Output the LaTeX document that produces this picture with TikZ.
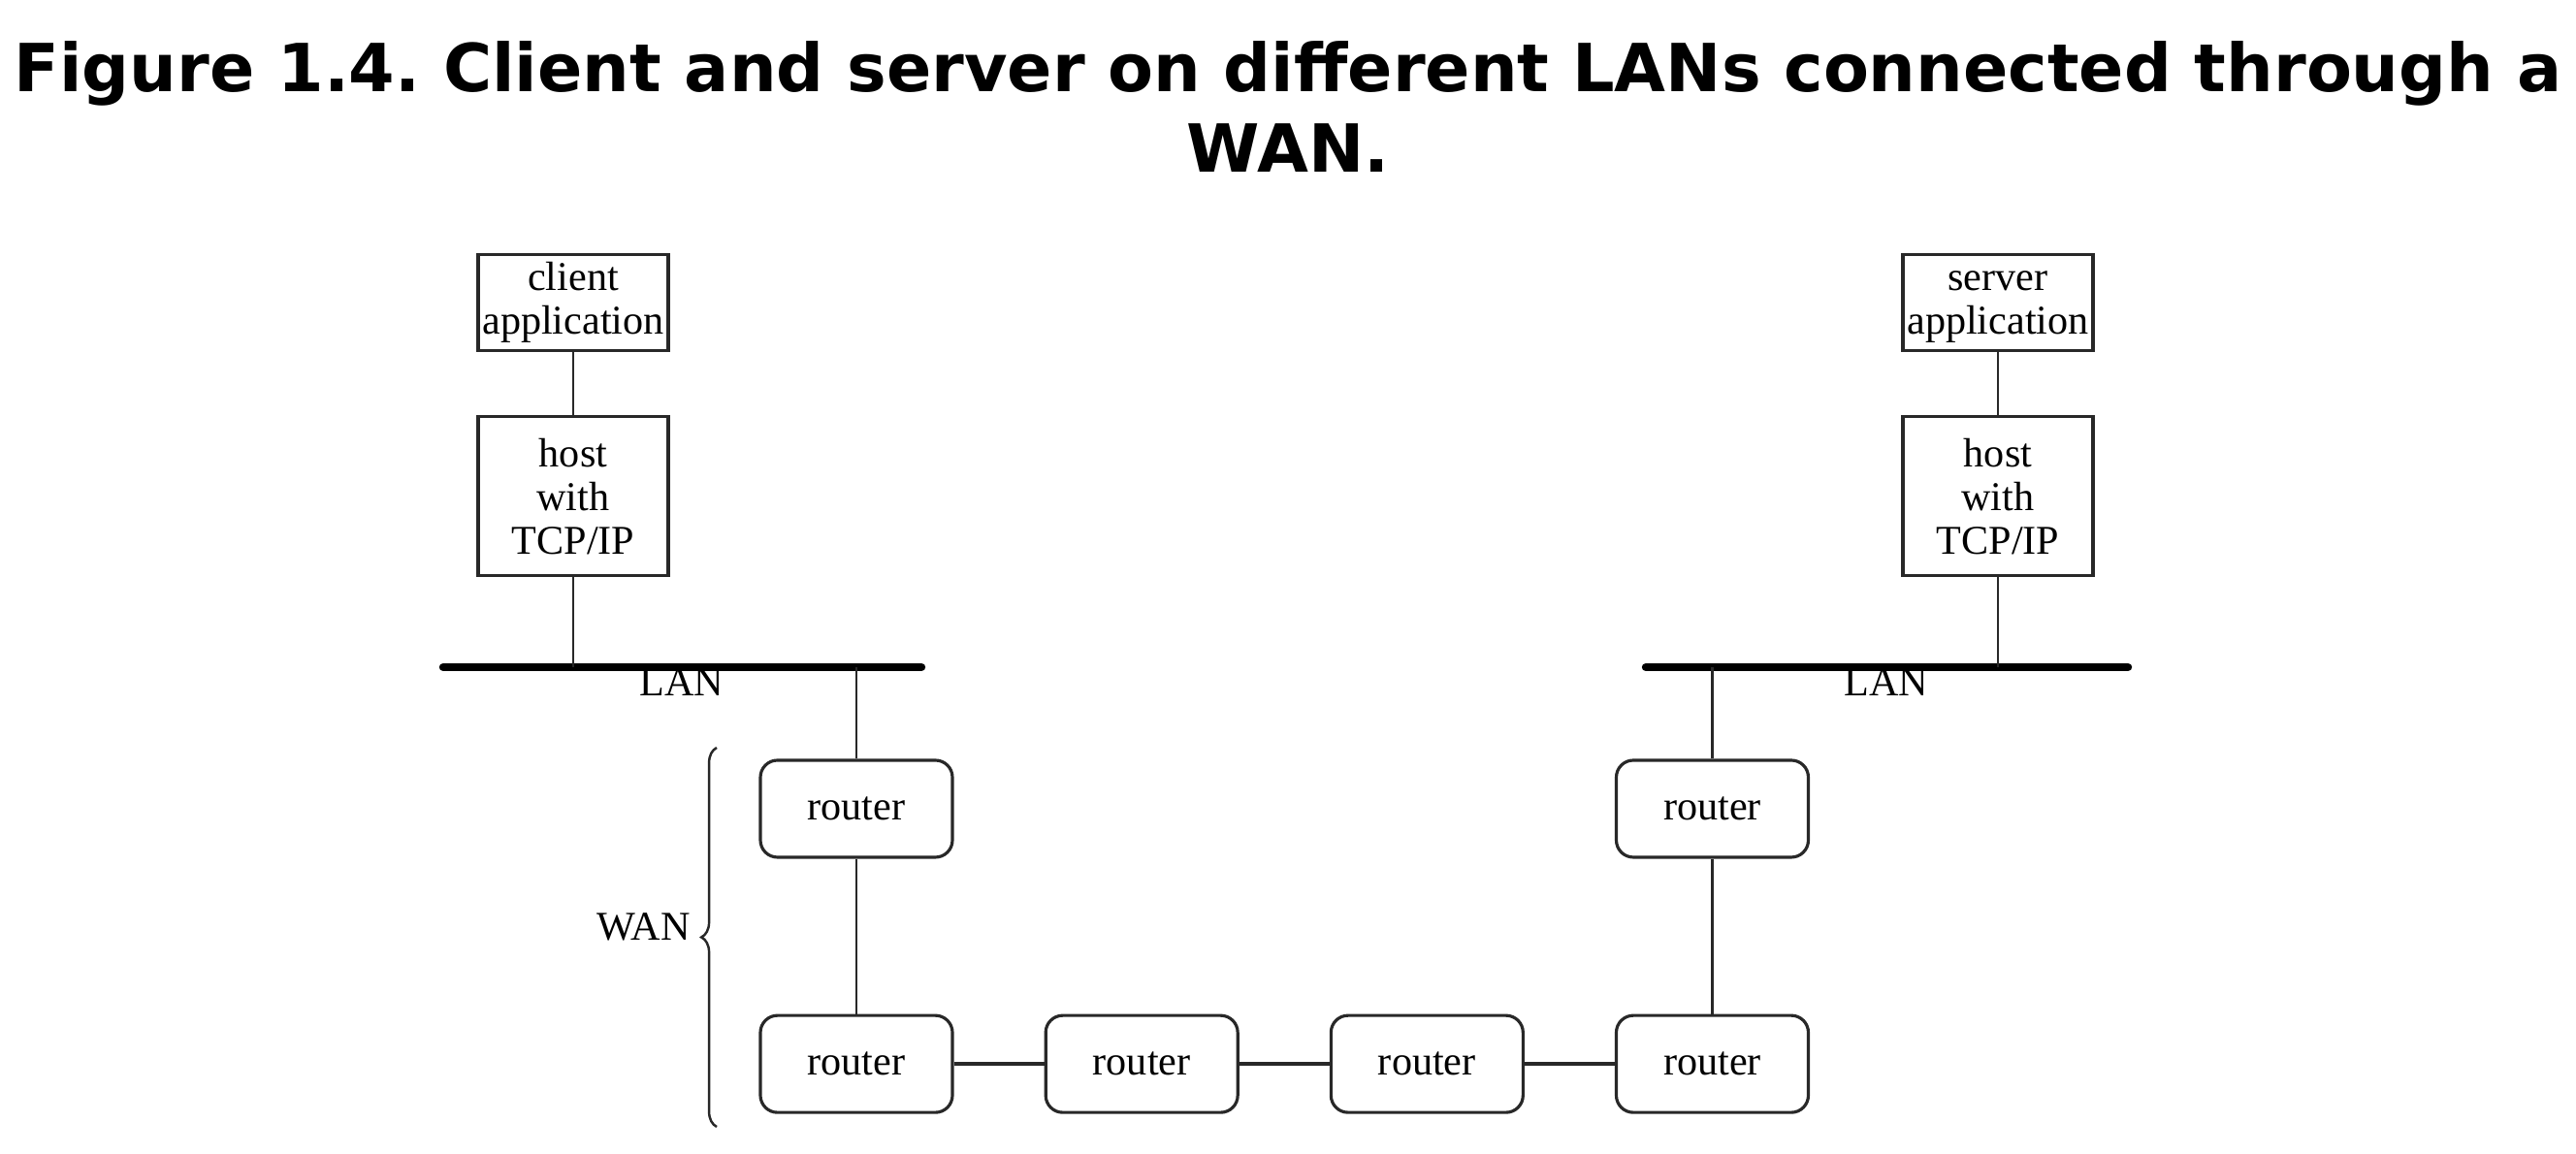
\documentclass[tikz,border=0pt]{standalone}
\usepackage{fontspec}
\setmainfont{Liberation Serif}
\newfontfamily\titlefont{DejaVu Sans}
\usepackage{tikz}
\usetikzlibrary{positioning,decorations.pathreplacing}
\definecolor{linegray}{RGB}{40,40,40}
\tikzset{
  wire/.style={draw=linegray, line width=0.7pt},
  link/.style={draw=linegray, line width=1.3pt},
  lanbar/.style={draw=black, line width=2.4pt, line cap=round},
  txt/.style={font=\fontsize{12}{12.8}\selectfont, text=black},
  block/.style={
    draw=linegray,
    line width=0.9pt,
    rectangle,
    minimum width=1.96cm,
    inner sep=0pt,
    align=center,
    font=\fontsize{12}{12.8}\selectfont
  },
  routerbox/.style={
    block,
    rounded corners=5pt,
    minimum width=1.98cm,
    minimum height=1.0cm
  }
}
\frenchspacing
\begin{document}
\begin{tikzpicture}
\useasboundingbox (0,0) rectangle (26.56,11.90);

% Title
\node[font=\titlefont\bfseries\fontsize{19.45}{23.8}\selectfont, align=center] (title) at (13.28,10.80)
  {Figure 1.4. Client and server on different LANs connected through a\\WAN.};

% Client side
\node[block, minimum height=0.99cm] (capp) at (5.91,8.78) {client\\application};
\node[block, minimum height=1.64cm, below=0.65cm of capp] (chost) {host\\with\\TCP/IP};

% Server side
\node[block, minimum height=0.99cm] (sapp) at (20.60,8.78) {server\vphantom{l}\\application};
\node[block, minimum height=1.64cm, below=0.65cm of sapp] (shost) {host\\with\\TCP/IP};

% LANs
\coordinate (lanl1) at (4.57,5.02);
\coordinate (lanl2) at (9.50,5.02);
\coordinate (lanr1) at (16.97,5.02);
\coordinate (lanr2) at (21.94,5.02);
\draw[lanbar] (lanl1) -- (lanl2);
\draw[lanbar] (lanr1) -- (lanr2);
\node[txt] (lanl) at (7.03,4.86) {LAN};
\node[txt] (lanr) at (19.45,4.86) {LAN};

% Routers
\node[routerbox] (rtl) at (8.83,3.56) {router};
\node[routerbox, below=1.60cm of rtl] (rb1) {router};
\node[routerbox, right=0.93cm of rb1] (rb2) {router};
\node[routerbox, right=0.93cm of rb2] (rb3) {router};
\node[routerbox, right=0.93cm of rb3] (rb4) {router};
\node[routerbox, above=1.60cm of rb4] (rtr) {router};

% Connections
\draw[wire] (capp) -- (chost);
\draw[wire] (sapp) -- (shost);
\draw[wire] (chost) -- (chost |- lanl1);
\draw[wire] (shost) -- (shost |- lanr1);
\draw[wire] (rtl) -- (rtl |- lanl1);
\draw[wire] (rtr) -- (rtr |- lanr1);
\draw[wire] (rtl) -- (rb1);
\draw[wire] (rtr) -- (rb4);
\draw[link] (rb1) -- (rb2);
\draw[link] (rb2) -- (rb3);
\draw[link] (rb3) -- (rb4);

% WAN brace
\coordinate (wanb) at (7.39,0.28);
\coordinate (want) at (7.39,4.19);
\draw[wire, decorate, decoration={brace, amplitude=4.5pt}] (wanb) -- (want);
\node[txt, anchor=east] (wan) at (7.24,2.34) {WAN};

\end{tikzpicture}
\end{document}
